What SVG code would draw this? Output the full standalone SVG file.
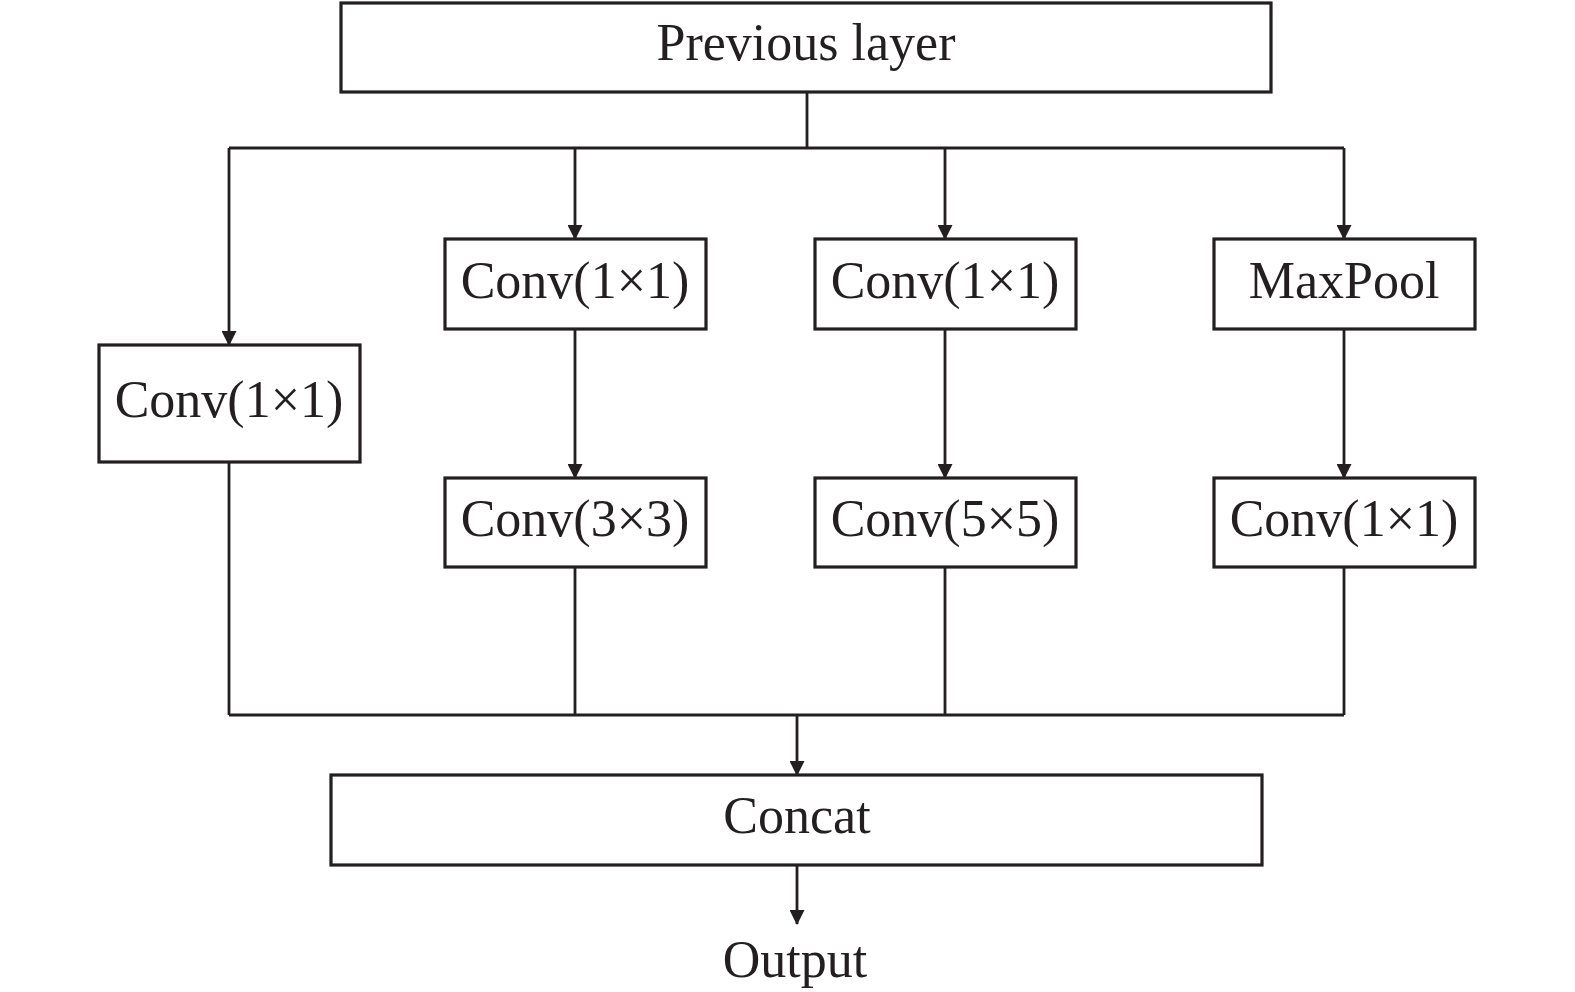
<svg xmlns="http://www.w3.org/2000/svg" width="1575" height="992" viewBox="0 0 1575 992">
<style>
.box{fill:#fff;stroke:#231f20;stroke-width:3.2}
.lbl{font-family:"Liberation Serif","Times New Roman",serif;font-size:52px;fill:#231f20;text-anchor:middle}
.ln{fill:none;stroke:#231f20;stroke-width:2.8}
.ar{fill:none;stroke:#231f20;stroke-width:2.8;marker-end:url(#ah)}
</style>
<defs>
<marker id="ah" markerUnits="userSpaceOnUse" markerWidth="15" markerHeight="15" refX="14" refY="7.5" orient="auto">
<path d="M0,0 L15,7.5 L0,15 z" fill="#231f20"/>
</marker>
</defs>
<rect width="1575" height="992" fill="#fff"/>
<g id="connectors">
<path class="ln" d="M807,92 V148"/>
<path class="ln" d="M229,148 H1344"/>
<path class="ar" d="M229,148 V345"/>
<path class="ar" d="M575,148 V239"/>
<path class="ar" d="M945,148 V239"/>
<path class="ar" d="M1344,148 V239"/>
<path class="ar" d="M575,329 V478"/>
<path class="ar" d="M945,329 V478"/>
<path class="ar" d="M1344,329 V478"/>
<path class="ln" d="M229,462 V715"/>
<path class="ln" d="M575,567 V715"/>
<path class="ln" d="M945,567 V715"/>
<path class="ln" d="M1344,567 V715"/>
<path class="ln" d="M229,715 H1344"/>
<path class="ar" d="M797,715 V775"/>
<path class="ar" d="M797,865 V924"/>
</g>
<g id="prev"><rect class="box" x="341" y="3" width="930" height="89"/><text class="lbl" x="806" y="60">Previous layer</text></g>
<g id="conv1a"><rect class="box" x="99" y="345" width="261" height="117"/><text class="lbl" x="229" y="417">Conv(1×1)</text></g>
<g id="conv1b"><rect class="box" x="445" y="239" width="261" height="90"/><text class="lbl" x="575" y="298">Conv(1×1)</text></g>
<g id="conv3"><rect class="box" x="445" y="478" width="261" height="89"/><text class="lbl" x="575" y="536">Conv(3×3)</text></g>
<g id="conv1c"><rect class="box" x="815" y="239" width="261" height="90"/><text class="lbl" x="945" y="298">Conv(1×1)</text></g>
<g id="conv5"><rect class="box" x="815" y="478" width="261" height="89"/><text class="lbl" x="945" y="536">Conv(5×5)</text></g>
<g id="maxpool"><rect class="box" x="1214" y="239" width="261" height="90"/><text class="lbl" x="1344" y="298">MaxPool</text></g>
<g id="conv1d"><rect class="box" x="1214" y="478" width="261" height="89"/><text class="lbl" x="1344" y="536">Conv(1×1)</text></g>
<g id="concat"><rect class="box" x="331" y="775" width="931" height="90"/><text class="lbl" x="797" y="833">Concat</text></g>
<g id="output"><text class="lbl" x="795" y="977">Output</text></g>
</svg>
